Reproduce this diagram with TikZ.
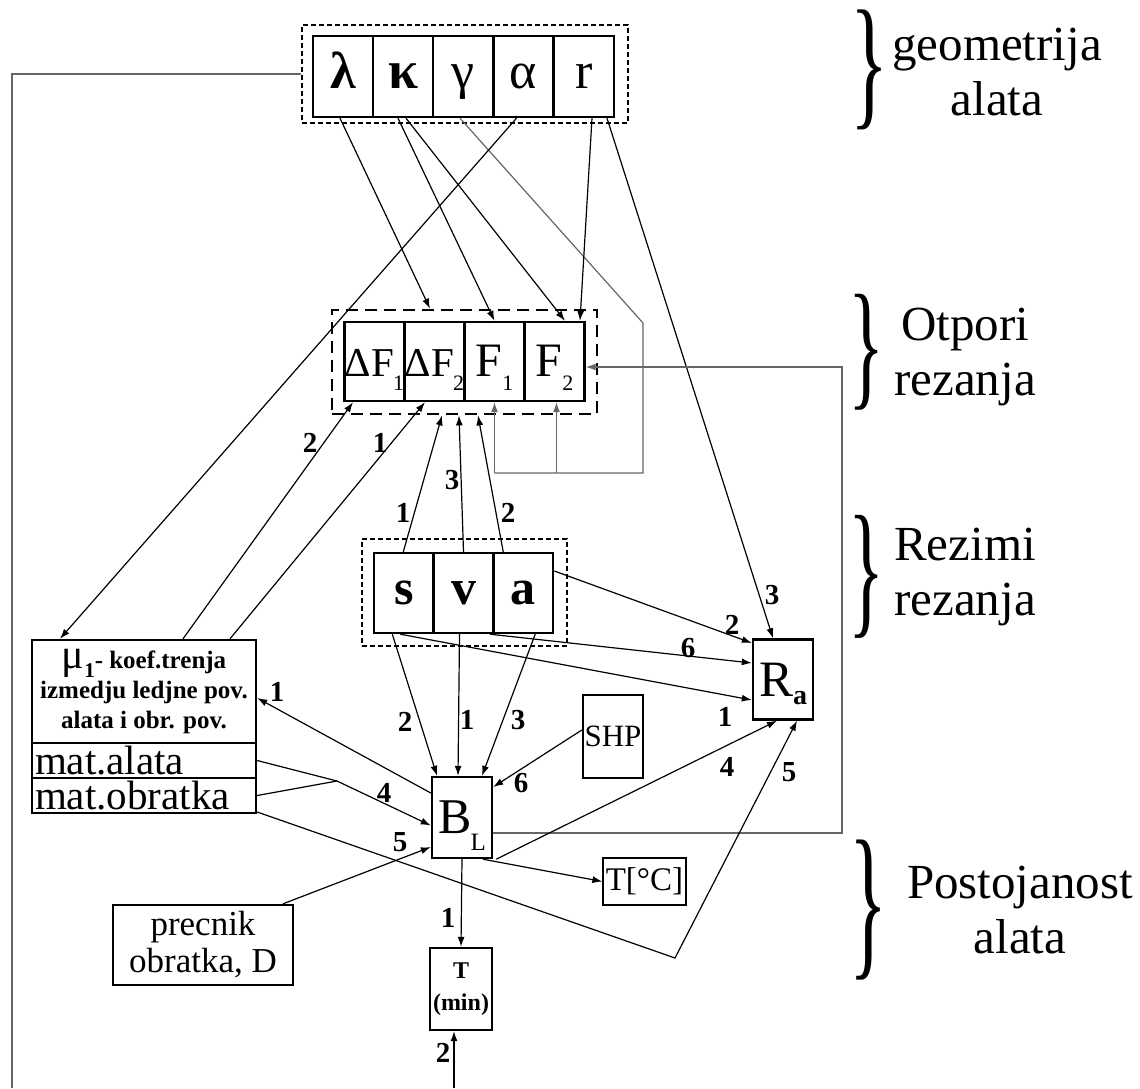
\documentclass[tikz,border=0pt]{standalone}
\usepackage{fontspec}
\setmainfont{Liberation Serif}
\usepackage{graphicx}
\usetikzlibrary{arrows.meta,calc}
\newcommand\Fsub[1]{\kern-1pt\raisebox{-14pt}{\fontsize{22}{22}\selectfont #1}}
\newcommand\Fsubb[1]{\kern0pt\raisebox{-14pt}{\fontsize{22}{22}\selectfont #1}}
\tikzset{
  bx/.style={draw,line width=2.4pt,inner sep=0pt,minimum width=60pt,minimum height=80pt},
  fbx/.style={bx,minimum height=79pt,text height=30pt,text depth=0pt,font=\fontsize{41}{41}\selectfont},
  gbx/.style={bx,minimum height=81pt,text height=24pt,text depth=0pt,font=\fontsize{52}{52}\selectfont},
  sbx/.style={bx,text height=23pt,text depth=0pt,font=\fontsize{50}{50}\selectfont\bfseries},
  grpthin/.style={draw,line width=1.4pt,dash pattern=on 5pt off 3pt,inner sep=0pt},
  grpthick/.style={draw,line width=2.8pt,dash pattern=on 12pt off 7pt,inner sep=0pt},
  conn/.style={line width=1.2pt,-{Latex[length=10pt,width=7pt]}},
  gconn/.style={line width=1.2pt,draw=black!60,-{Latex[length=10pt,width=7pt]}},
  ln/.style={line width=1.2pt},
  gln/.style={line width=1.2pt,draw=black!60},
  lab/.style={font=\fontsize{29}{29}\selectfont\bfseries,inner sep=0pt},
  sidetxt/.style={align=center,font=\fontsize{49}{55}\selectfont,inner sep=0pt},
  brc/.style={inner sep=1pt},
  matbx/.style={draw,line width=2.4pt,text width=218pt,inner xsep=3pt,inner ysep=0pt,minimum height=35pt,align=left,text height=28pt,text depth=0pt,font=\fontsize{41}{41}\selectfont},
}
\begin{document}
\begin{tikzpicture}[x=1pt,y=-1pt]
\useasboundingbox (0,0) rectangle (1140,1088);
% ---------- groups ----------
\node[grpthin,minimum width=326pt,minimum height=98pt] (geo) at (465,74) {};
\node[grpthick,minimum width=265pt,minimum height=104pt] (Fg) at (464.5,362) {};
\node[grpthin,minimum width=205pt,minimum height=107pt] (Sg) at (464.5,592.5) {};
% ---------- top boxes ----------
\node[gbx,font=\fontsize{52}{52}\selectfont\bfseries] (lam) at (343,76.5) {λ};
\node[gbx,font=\fontsize{54}{54}\selectfont\bfseries] (kap) at (403,76.5) {κ};
\node[gbx] (gam) at (463,76.5) {γ};
\node[gbx] (alp) at (523.5,76.5) {α};
\node[gbx] (rr) at (584,76.5) {r};
% ---------- F boxes ----------
\node[fbx] (dF1) at (374.5,361.5) {ΔF\Fsub{1}};
\node[fbx] (dF2) at (434.5,361.5) {ΔF\Fsub{2}};
\node[fbx,font=\fontsize{48}{48}\selectfont] (F1) at (494.5,361.5) {F\Fsubb{1}};
\node[fbx,font=\fontsize{48}{48}\selectfont] (F2) at (554.5,361.5) {F\Fsubb{2}};
% ---------- s v a ----------
\node[sbx] (s) at (403.8,593) {s};
\node[sbx] (v) at (463.5,593) {v};
\node[sbx] (a) at (523.2,593) {a};
% ---------- other boxes ----------
\node[bx,text height=34pt,text depth=0pt] (Ra) at (783,679.5)
  {{\fontsize{51}{51}\selectfont R}\raisebox{-8pt}{\fontsize{28}{28}\selectfont\bfseries a}};
\node[bx,minimum width=224pt,minimum height=103pt,align=center,font=\fontsize{25}{30}\selectfont\bfseries] (mu) at (144,691.5)
  {{\fontsize{42}{30}\selectfont\mdseries μ}\raisebox{-9pt}{\fontsize{21}{21}\selectfont 1}- koef.trenja\\izmedju ledjne pov.\\alata i obr. pov.};
\node[matbx] (matal) at (144,760.5) {mat.alata};
\node[matbx] (matob) at (144,795.5) {mat.obratka};
\node[bx,minimum height=83pt,font=\fontsize{31}{31}\selectfont] (SHP) at (613,736.5) {SHP};
\node[bx,minimum height=81pt,text height=31pt,text depth=0pt] (BL) at (462,817.5)
  {{\fontsize{50}{50}\selectfont B}\kern-1pt\raisebox{-17pt}{\fontsize{25}{25}\selectfont L}};
\node[draw,line width=1.2pt,inner sep=0pt,minimum width=83pt,minimum height=47pt,font=\fontsize{33}{33}\selectfont] (TC) at (644.5,881.5) {T[°C]};
\node[bx,minimum width=180pt,minimum height=80pt,align=center,font=\fontsize{35}{37}\selectfont] (prec) at (203,945) {precnik\\obratka, D};
\node[bx,minimum width=62pt,minimum height=82pt,align=center,font=\fontsize{24}{32}\selectfont\bfseries] (Tm) at (461,989) {T\\(min)};
% ---------- side labels ----------
\node[brc] (b1) at (870,70) {\resizebox*{38pt}{120pt}{\}}};
\node[sidetxt] (t1) at (997,72) {geometrija\\alata};
\node[brc] (b2) at (866,352) {\resizebox*{36pt}{116pt}{\}}};
\node[sidetxt] (t2) at (965,357) {Otpori\\rezanja};
\node[brc] (b3) at (866,577) {\resizebox*{36pt}{123pt}{\}}};
\node[sidetxt] (t3) at (965,577) {Rezimi\\rezanja};
\node[brc] (b4) at (868,910) {\resizebox*{38pt}{140pt}{\}}};
\node[sidetxt] (t4) at (1020,910) {Postojanost\\alata};
% ---------- coordinates ----------
\coordinate (g1) at (643,323);
\coordinate (g2) at (643,473);
\coordinate (g3) at (494.5,473);
\coordinate (g4) at (556.5,473);
\coordinate (c1) at (842,833);
\coordinate (c2) at (842,367);
\coordinate (m) at (337,781);
\coordinate (v5) at (675,958);
\coordinate (tb) at (454,1088);
\coordinate (lb) at (12,1088);
% ---------- connectors ----------
\draw[gln] (geo.west) -| (lb);
\draw[conn] ([xshift=-3pt]lam.south) -- ([xshift=-34.5pt]Fg.north);
\draw[conn] ([xshift=-5pt]kap.south) -- (F1.north);
\draw[conn] ([xshift=3pt]kap.south) -- ([xshift=10.5pt]F2.north);
\draw[gln] ([xshift=-3pt]gam.south) -- (g1) -- (g2) -- (g3);
\draw[gconn] (g3) -- (F1.south);
\draw[gconn] (g4) -- ([xshift=2pt]F2.south);
\draw[conn] ([xshift=-7pt]alp.south) -- ([xshift=-84pt]mu.north);
\draw[conn] ([xshift=8pt]rr.south) -- ([xshift=25.5pt]F2.north);
\draw[conn] ([xshift=23pt]rr.south) -- ([xshift=-10pt]Ra.north) node[lab,at={(772,595)}]{3};
\draw[gconn] ([yshift=-15.5pt]BL.east) -- (c1) -- (c2) -- ([yshift=-5.5pt]F2.east);
\draw[conn] ([xshift=39pt]mu.north) -- ([xshift=-21.5pt]dF1.south) node[lab,at={(310,443)}]{2};
\draw[conn] ([xshift=86pt]mu.north) -- ([xshift=-9.5pt]dF2.south) node[lab,at={(380,443)}]{1};
\draw[conn] ([xshift=-0.5pt]s.north) -- ([xshift=-22.5pt]Fg.south) node[lab,at={(403,513)}]{1};
\draw[conn] (v.north) -- ([xshift=-5.5pt]Fg.south) node[lab,at={(452,480)}]{3};
\draw[conn] ([xshift=-20pt]a.north) -- ([xshift=13.5pt]Fg.south) node[lab,at={(508,513)}]{2};
\draw[conn] ([yshift=22pt]a.east) -- ([yshift=36.5pt]Ra.west) node[lab,at={(732,625)}]{2};
\draw[conn] ([xshift=26.5pt]v.south) -- ([yshift=16.5pt]Ra.west) node[lab,at={(688,648)}]{6};
\draw[conn] ([xshift=-3.5pt]s.south) -- ([yshift=-20.5pt]Ra.west) node[lab,at={(725,717)}]{1};
\draw[conn] ([xshift=-11.5pt]s.south) -- ([xshift=-25pt]BL.north) node[lab,at={(405,722)}]{2};
\draw[conn] ([xshift=-4pt]v.south) -- ([xshift=-4pt]BL.north) node[lab,at={(467,720)}]{1};
\draw[conn] ([xshift=12pt]a.south) -- ([xshift=20pt]BL.north) node[lab,at={(518,720)}]{3};
\draw[conn] ([yshift=6.5pt]SHP.west) -- ([yshift=30.5pt]BL.east) node[lab,at={(521,783)}]{6};
\draw[conn] ([yshift=24.5pt]BL.west) -- ([yshift=-6.5pt]mu.east) node[lab,at={(277,692)}]{1};
\draw[ln] (matal.east) -- (m);
\draw[ln] (matob.east) -- (m);
\draw[conn] (m) -- ([yshift=-8pt]BL.west) node[lab,at={(384,793)}]{4};
\draw[conn] ([yshift=-16.5pt]matob.east) -- (v5) -- ([xshift=14pt]Ra.south) node[lab,at={(789,772)}]{5};
\draw[conn] ([xshift=80pt]prec.north) -- ([yshift=-29.5pt]BL.west) node[lab,at={(400,842)}]{5};
\draw[conn] ([xshift=3pt]BL.south east) -- ([xshift=-6pt]Ra.south) node[lab,at={(727,767)}]{4};
\draw[conn] (BL.south) -- (Tm.north) node[lab,at={(448,918)}]{1};
\draw[conn] ([xshift=21pt]BL.south) -- (TC.west);
\draw[conn] (tb) -- ([xshift=-7pt]Tm.south) node[lab,at={(443,1053)}]{2};
\end{tikzpicture}
\end{document}
